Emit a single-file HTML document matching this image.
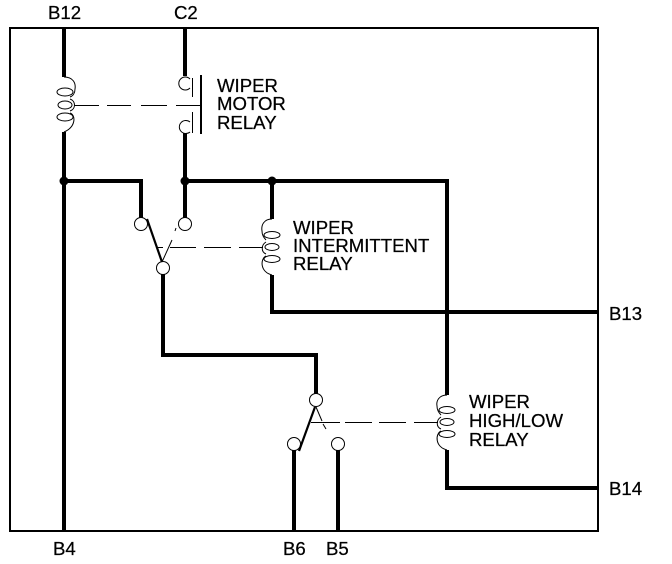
<!DOCTYPE html>
<html><head><meta charset="utf-8"><style>
html,body{margin:0;padding:0;background:#fff}
svg{display:block}
text{font-family:"Liberation Sans",Arial,sans-serif;font-size:18.6px;fill:#000;stroke:#000;stroke-width:.25px}
</style></head><body>
<svg width="672" height="564" viewBox="0 0 672 564" xmlns="http://www.w3.org/2000/svg">
<rect x="10" y="28" width="588" height="503" fill="none" stroke="#000" stroke-width="2"/>
<g fill="none" stroke="#000" stroke-width="4">
<path d="M64 28V77M64 132V531"/>
<path d="M185 28V76M185 133V218"/>
<path d="M64 181H141V218"/>
<path d="M185 181H447V395"/>
<path d="M272 181V219M272 275V312H598"/>
<path d="M163 274V355H316V394"/>
<path d="M447 450V488H598"/>
<path d="M294 450V531M338 450V531"/>
</g>
<g fill="#000"><circle cx="64" cy="181" r="4.5"/><circle cx="185" cy="181" r="4.5"/><circle cx="272" cy="181" r="4.5"/></g>
<g fill="none" stroke="#000" stroke-width="1">
<path d="M64 77C73 77 76 83 75 89C75 93 73 96 70 97M70 99C76 101 76 109 70 111M70 113C76 115 76 127 64 132"/>
<ellipse cx="65" cy="92" rx="8" ry="4"/><ellipse cx="65" cy="105" rx="7" ry="4"/><ellipse cx="65" cy="117" rx="8" ry="4"/>
<path d="M272 219C264 219 261 225 262 231C262 235 264 238 266 240M266 242C261 245 261 252 266 254M266 256C260 259 260 272 272 275"/>
<ellipse cx="272" cy="235" rx="8" ry="3.5"/><ellipse cx="272" cy="247" rx="7" ry="3.5"/><ellipse cx="272" cy="259" rx="8" ry="3.5"/>
<path d="M447 395C439 395 436 401 437 406C437 410 439 413 441 415M441 417C436 420 436 427 441 429M441 431C435 434 435 447 447 450"/>
<ellipse cx="447" cy="410" rx="8" ry="3.5"/><ellipse cx="447" cy="422" rx="7" ry="3.5"/><ellipse cx="447" cy="434" rx="8" ry="3.5"/>
<path d="M190 79A6.5 6.5 0 1 0 190 88"/>
<path d="M190 122A6.5 6.5 0 1 0 190 132"/>
<circle cx="141" cy="224" r="6.5" fill="#fff"/>
<circle cx="185" cy="224" r="6.5" fill="#fff"/>
<circle cx="163" cy="268" r="6.5" fill="#fff"/>
<circle cx="316" cy="400" r="6.5" fill="#fff"/>
<circle cx="294" cy="444" r="6.5" fill="#fff"/>
<circle cx="338" cy="444" r="6.5" fill="#fff"/>
<path d="M162 262L172 240M175 231L176 228"/>
<path d="M316 407L322 421M323 424L326 429"/>
</g>
<g fill="none" stroke="#000" stroke-width="1" shape-rendering="crispEdges">
<path d="M192.5 78V97M192.5 112V133"/>
<path d="M74 105.5H99M107 105.5H131M141 105.5H167M176 105.5H201"/>
<path d="M157 247.5H163M170 247.5H196M204 247.5H231M239 247.5H263"/>
<path d="M311 422.5H340M345 422.5H372M379 422.5H406M414 422.5H438"/>
</g>
<path d="M201 75V134" stroke="#000" stroke-width="2" fill="none"/>
<path d="M147 219L162 262" stroke="#000" stroke-width="2.2" fill="none"/>
<path d="M315 407L299 451" stroke="#000" stroke-width="2.2" fill="none"/>
<text x="48" y="19">B12</text>
<text x="174" y="19">C2</text>
<text x="53" y="555">B4</text>
<text x="283" y="555">B6</text>
<text x="326" y="555">B5</text>
<text x="609" y="320">B13</text>
<text x="609" y="495">B14</text>
<text x="217" y="92">WIPER</text>
<text x="217" y="110">MOTOR</text>
<text x="217" y="129">RELAY</text>
<text x="293" y="234">WIPER</text>
<text x="293" y="252">INTERMITTENT</text>
<text x="293" y="270">RELAY</text>
<text x="469" y="408">WIPER</text>
<text x="469" y="427">HIGH/LOW</text>
<text x="469" y="446">RELAY</text>
</svg>
</body></html>
